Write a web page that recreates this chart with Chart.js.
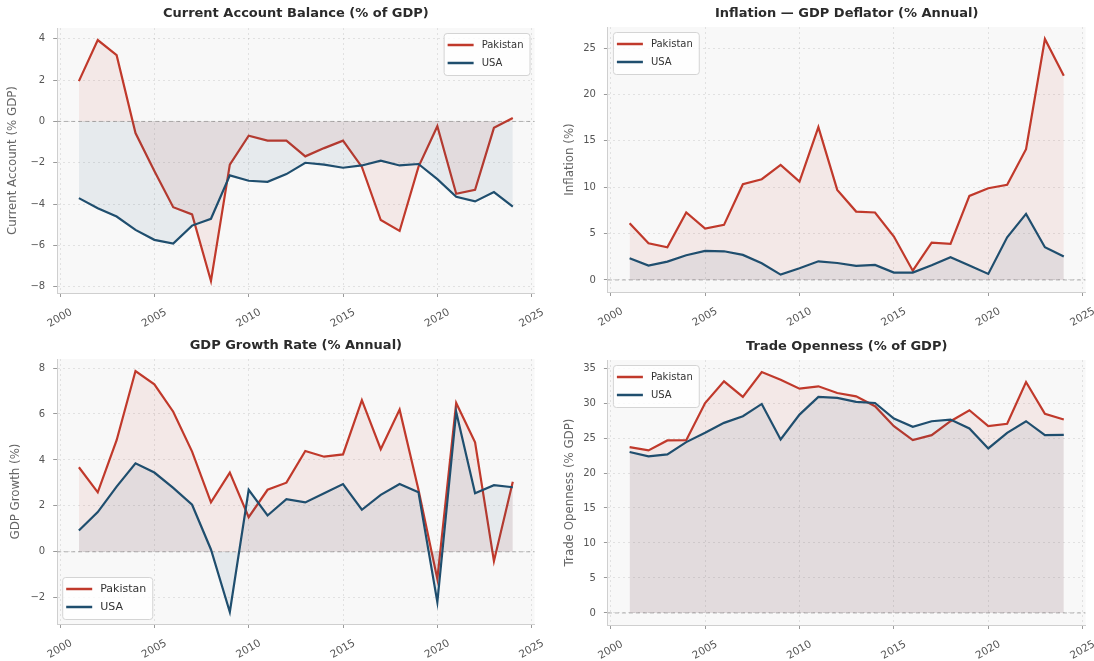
<!DOCTYPE html>
<html lang="en">
<head>
<meta charset="UTF-8">
<title>Pakistan vs USA — Macro Indicators</title>
<script src="https://cdn.jsdelivr.net/npm/chart.js@4"></script>
<style>
  body { margin: 0; background: #ffffff; }
  canvas.panel { position: absolute; }
</style>
</head>
<body>
<canvas id="caChart" class="panel" width="547" height="330" style="left:0;top:0"></canvas>
<canvas id="inflChart" class="panel" width="547" height="330" style="left:547px;top:0"></canvas>
<canvas id="growthChart" class="panel" width="547" height="331" style="left:0;top:330px"></canvas>
<canvas id="tradeChart" class="panel" width="547" height="331" style="left:547px;top:330px"></canvas>

<script>
// ---- data ----
const years = [2001, 2002, 2003, 2004, 2005, 2006, 2007, 2008, 2009, 2010, 2011, 2012,
               2013, 2014, 2015, 2016, 2017, 2018, 2019, 2020, 2021, 2022, 2023, 2024];
const yearTicks = [2000, 2005, 2010, 2015, 2020, 2025];

const pkCurrentAccount = [1.95, 3.94, 3.21, -0.56, -2.4, -4.15, -4.5, -7.72, -2.09, -0.69, -0.93, -0.93,
                          -1.69, -1.29, -0.93, -2.2, -4.77, -5.3, -2.2, -0.23, -3.5, -3.31, -0.31, 0.17];
const usCurrentAccount = [-3.71, -4.2, -4.6, -5.25, -5.73, -5.91, -5.04, -4.71, -2.61, -2.87, -2.92, -2.55,
                          -2.0, -2.09, -2.24, -2.13, -1.9, -2.13, -2.06, -2.79, -3.65, -3.87, -3.42, -4.12];
const caTicks = [-8, -6, -4, -2, 0, 2, 4];

const pkInflation = [6.12, 3.96, 3.53, 7.27, 5.54, 5.94, 10.32, 10.86, 12.41, 10.61, 16.47, 9.71,
                     7.37, 7.27, 4.68, 1.0, 4.03, 3.88, 9.06, 9.89, 10.25, 14.1, 25.97, 22.0];
const usInflation = [2.34, 1.55, 1.98, 2.66, 3.13, 3.09, 2.7, 1.8, 0.58, 1.26, 2.01, 1.83,
                     1.51, 1.62, 0.79, 0.79, 1.58, 2.45, 1.55, 0.65, 4.6, 7.12, 3.53, 2.52];
const inflTicks = [0, 5, 10, 15, 20, 25];

const pkGrowth = [3.68, 2.59, 4.86, 7.87, 7.29, 6.1, 4.36, 2.15, 3.45, 1.51, 2.7, 3.01,
                  4.39, 4.14, 4.24, 6.6, 4.47, 6.19, 2.7, -1.18, 6.48, 4.77, -0.41, 3.05];
const usGrowth = [0.93, 1.73, 2.84, 3.85, 3.45, 2.78, 2.05, 0.1, -2.62, 2.7, 1.58, 2.29,
                  2.15, 2.55, 2.95, 1.83, 2.48, 2.95, 2.59, -2.19, 6.09, 2.55, 2.9, 2.81];
const growthTicks = [-2, 0, 2, 4, 6, 8];

const pkTrade = [23.71, 23.23, 24.66, 24.7, 30.0, 33.1, 30.87, 34.43, 33.34, 32.05, 32.39, 31.44,
                 30.96, 29.54, 26.69, 24.7, 25.41, 27.4, 28.97, 26.69, 27.03, 33.0, 28.45, 27.64];
const usTrade = [23.0, 22.38, 22.66, 24.42, 25.75, 27.17, 28.12, 29.87, 24.8, 28.35, 30.87, 30.73,
                 30.16, 30.01, 27.78, 26.6, 27.4, 27.64, 26.36, 23.52, 25.75, 27.4, 25.41, 25.46];
const tradeTicks = [0, 5, 10, 15, 20, 25, 30, 35];

// ---- styling ----
const FONT = 'DejaVu Sans';
const PK_COLOR = '#c0392b';
const US_COLOR = '#1f4e6e';
const PK_FILL = 'rgba(192, 57, 43, 0.08)';
const US_FILL = 'rgba(31, 78, 110, 0.08)';

const fmtNum = v => (v < 0 ? '\u2212' : '') + Math.abs(v);

// background, zero line, title and legend for each panel
const panelDecor = {
  id: 'panelDecor',
  beforeDraw(chart) {
    const { ctx, chartArea: a } = chart;
    ctx.save();
    ctx.fillStyle = '#f8f8f8';
    ctx.fillRect(a.left, a.top, a.width, a.height);
    ctx.restore();
  },
  beforeDatasetsDraw(chart) {
    const { ctx, chartArea: a } = chart;
    const y0 = chart.scales.y.getPixelForValue(0);
    ctx.save();
    ctx.strokeStyle = 'rgba(128,128,128,0.6)';
    ctx.lineWidth = 1;
    ctx.setLineDash([4, 3]);
    ctx.beginPath();
    ctx.moveTo(a.left, y0);
    ctx.lineTo(a.right, y0);
    ctx.stroke();
    ctx.restore();
  },
  afterDraw(chart, args, opts) {
    const { ctx, chartArea: a } = chart;
    ctx.save();
    // title
    ctx.font = `bold 13px "${FONT}"`;
    ctx.fillStyle = '#2b2b2b';
    ctx.textAlign = 'center';
    ctx.textBaseline = 'middle';
    ctx.fillText(opts.title, (a.left + a.right) / 2, opts.titleY);

    // legend
    const fs = opts.legendSize;
    ctx.font = `${fs}px "${FONT}"`;
    const items = chart.data.datasets;
    const textW = Math.max(...items.map(d => ctx.measureText(d.label).width));
    const handle = 26, gap = 8, padL = 4, padR = 6, rowH = 18, padV = 3, m = 5;
    const w = padL + handle + gap + textW + padR;
    const h = items.length * rowH + padV * 2;
    const x = opts.legendPos.includes('r') ? a.right - m - w : a.left + m;
    const y = opts.legendPos.includes('b') ? a.bottom - m - h : a.top + m;
    ctx.beginPath();
    ctx.roundRect(x + 0.5, y + 0.5, w, h, 3);
    ctx.fillStyle = 'rgba(255,255,255,0.8)';
    ctx.fill();
    ctx.strokeStyle = '#d4d4d4';
    ctx.lineWidth = 1;
    ctx.stroke();
    items.forEach((d, i) => {
      const cy = y + padV + rowH * i + rowH / 2;
      ctx.strokeStyle = d.borderColor;
      ctx.lineWidth = 2.5;
      ctx.beginPath();
      ctx.moveTo(x + padL, cy);
      ctx.lineTo(x + padL + handle, cy);
      ctx.stroke();
      ctx.fillStyle = '#333';
      ctx.textAlign = 'left';
      ctx.textBaseline = 'middle';
      ctx.fillText(d.label, x + padL + handle + gap, cy + 0.5);
    });
    ctx.restore();
  }
};

function buildPanel(id, spec) {
  const canvas = document.getElementById(id);
  const W = canvas.width, H = canvas.height;
  const box = spec.box;
  const all = spec.series.flatMap(s => s.values).concat([0]);
  const lo = Math.min(...all), hi = Math.max(...all);
  const pad = (hi - lo) * 0.05;
  const xPad = (years[years.length - 1] - years[0]) * 0.05;

  const gridOpts = { color: 'rgba(0,0,0,0.09)', lineWidth: 1, tickLength: 4, tickColor: '#9a9a9a' };
  const borderOpts = { color: '#cfcfcf', width: 1, dash: [2, 3] };
  const tickFont = { family: FONT, size: 10 };

  return new Chart(canvas, {
    type: 'line',
    data: {
      datasets: spec.series.map((s, i) => ({
        label: s.label,
        data: years.map((yr, k) => ({ x: yr, y: s.values[k] })),
        borderColor: s.color,
        backgroundColor: s.fill,
        borderWidth: 2.2,
        pointRadius: 0,
        tension: 0,
        fill: 'origin',
        order: spec.series.length - 1 - i
      }))
    },
    options: {
      responsive: false,
      animation: false,
      layout: { padding: { left: 0, top: box.top, right: W - box.right, bottom: 0 } },
      plugins: {
        legend: { display: false },
        tooltip: { enabled: false },
        panelDecor: { title: spec.title, titleY: spec.titleY, legendPos: spec.legendPos, legendSize: spec.legendSize }
      },
      scales: {
        x: {
          type: 'linear',
          min: years[0] - xPad,
          max: years[years.length - 1] + xPad,
          afterBuildTicks: s => { s.ticks = yearTicks.map(v => ({ value: v })); },
          afterFit: s => { s.height = H - box.bottom; s.paddingLeft = 0; s.paddingRight = 0; },
          ticks: {
            autoSkip: false, minRotation: 30, maxRotation: 30, labelOffset: 11.5, padding: 9,
            color: '#555', font: { family: FONT, size: 10.5 }, callback: v => String(v)
          },
          grid: gridOpts,
          border: borderOpts
        },
        y: {
          type: 'linear',
          min: lo - pad,
          max: hi + pad,
          afterBuildTicks: s => { s.ticks = spec.ticks.map(v => ({ value: v })); },
          afterFit: s => { s.width = box.left; s.paddingTop = 0; s.paddingBottom = 0; },
          ticks: { padding: 8, color: '#555', font: tickFont, callback: fmtNum },
          grid: gridOpts,
          border: borderOpts,
          title: {
            display: true, text: spec.yTitle, color: '#666',
            font: { family: FONT, size: 11.8 },
            padding: { top: spec.yTitleX - 7.1, bottom: 0 }
          }
        }
      }
    },
    plugins: [panelDecor]
  });
}

buildPanel('caChart', {
  title: 'Current Account Balance (% of GDP)', titleY: 14,
  yTitle: 'Current Account (% GDP)', yTitleX: 13,
  ticks: caTicks, legendPos: 'tr', legendSize: 10,
  box: { left: 57.2, right: 534.5, top: 28, bottom: 293 },
  series: [
    { label: 'Pakistan', values: pkCurrentAccount, color: PK_COLOR, fill: PK_FILL },
    { label: 'USA', values: usCurrentAccount, color: US_COLOR, fill: US_FILL }
  ]
});

buildPanel('inflChart', {
  title: 'Inflation \u2014 GDP Deflator (% Annual)', titleY: 14,
  yTitle: 'Inflation (%)', yTitleX: 22.7,
  ticks: inflTicks, legendPos: 'tl', legendSize: 10,
  box: { left: 60.9, right: 538.5, top: 27, bottom: 292 },
  series: [
    { label: 'Pakistan', values: pkInflation, color: PK_COLOR, fill: PK_FILL },
    { label: 'USA', values: usInflation, color: US_COLOR, fill: US_FILL }
  ]
});

buildPanel('growthChart', {
  title: 'GDP Growth Rate (% Annual)', titleY: 16,
  yTitle: 'GDP Growth (%)', yTitleX: 15.7,
  ticks: growthTicks, legendPos: 'bl', legendSize: 11,
  box: { left: 57.2, right: 534.5, top: 29, bottom: 294 },
  series: [
    { label: 'Pakistan', values: pkGrowth, color: PK_COLOR, fill: PK_FILL },
    { label: 'USA', values: usGrowth, color: US_COLOR, fill: US_FILL }
  ]
});

buildPanel('tradeChart', {
  title: 'Trade Openness (% of GDP)', titleY: 16.5,
  yTitle: 'Trade Openness (% GDP)', yTitleX: 22.7,
  ticks: tradeTicks, legendPos: 'tl', legendSize: 10,
  box: { left: 60.9, right: 538.5, top: 30, bottom: 295 },
  series: [
    { label: 'Pakistan', values: pkTrade, color: PK_COLOR, fill: PK_FILL },
    { label: 'USA', values: usTrade, color: US_COLOR, fill: US_FILL }
  ]
});
</script>
</body>
</html>
